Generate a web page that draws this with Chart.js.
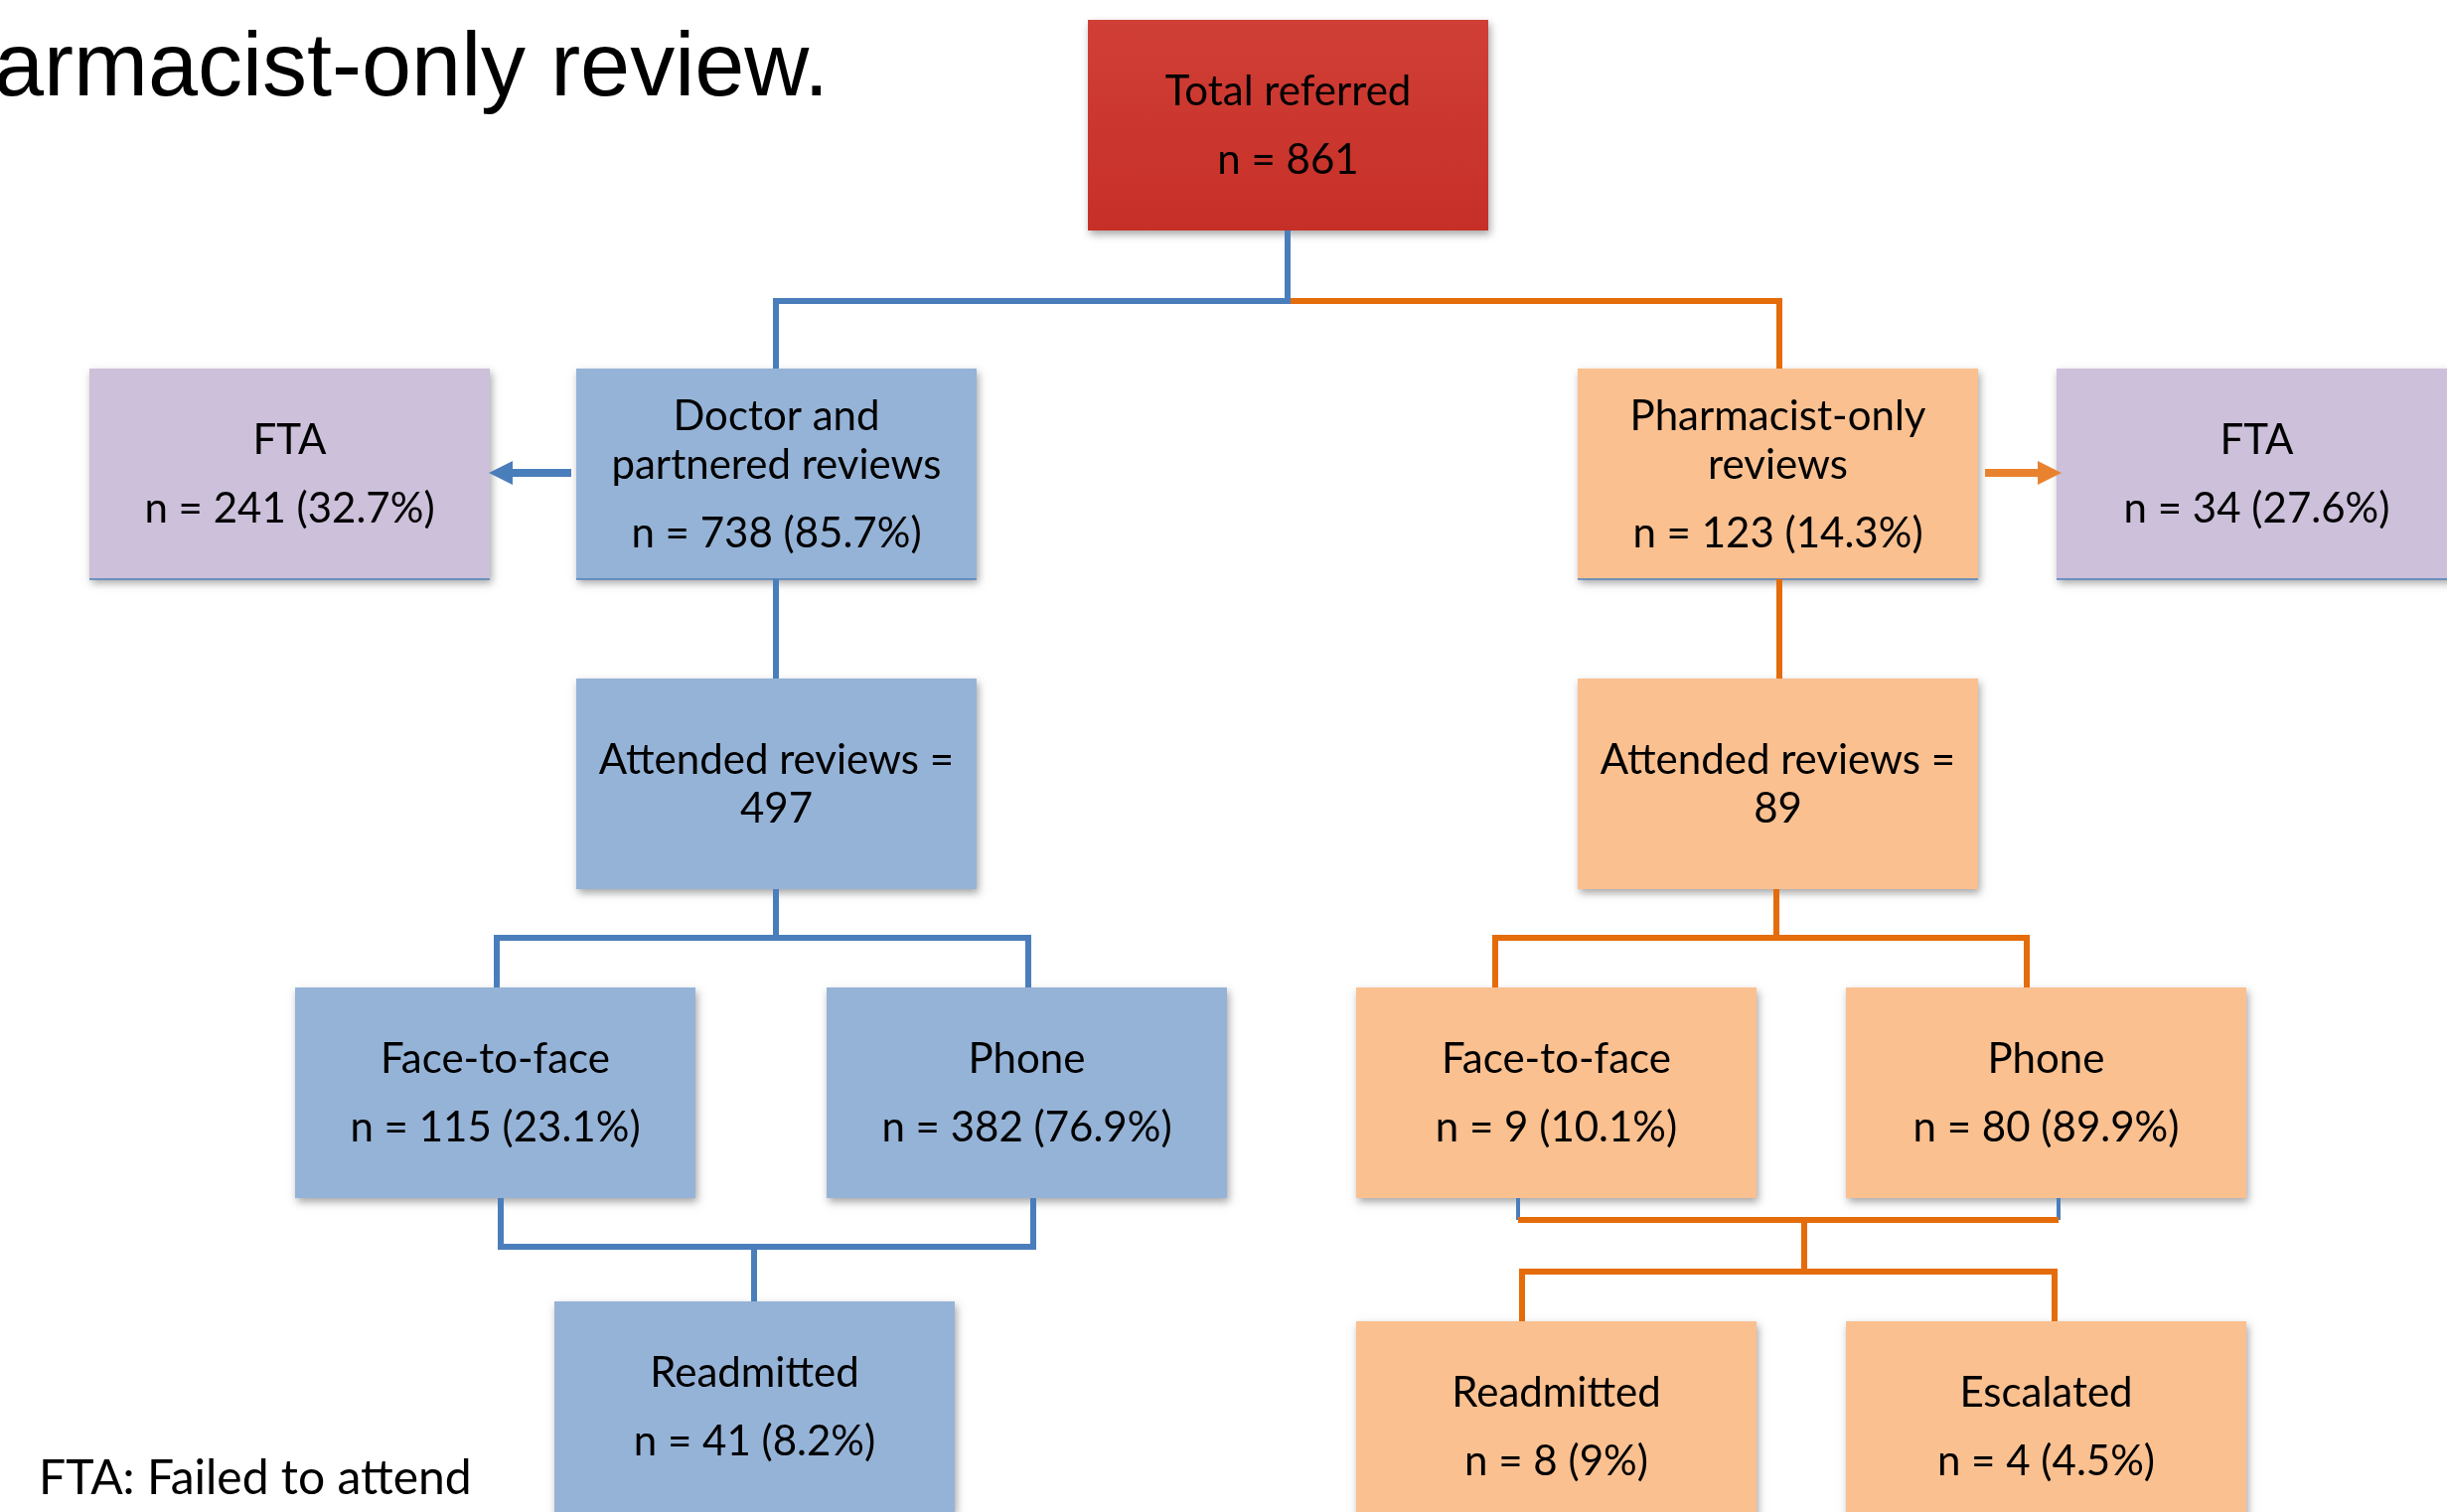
<!DOCTYPE html>
<html>
<head>
<meta charset="utf-8">
<script src="https://cdn.jsdelivr.net/npm/chart.js@4"></script>
<style>
  html, body { margin: 0; padding: 0; background: #fff; overflow: hidden; }
  canvas { display: block; }
</style>
</head>
<body>
<canvas id="flow" width="2463" height="1522"></canvas>
<script>
// node values
const nodeTitles = [
  'Total referred',
  'Doctor and\npartnered reviews', 'Pharmacist-only\nreviews',
  'FTA', 'FTA',
  'Attended reviews =', 'Attended reviews =',
  'Face-to-face', 'Phone', 'Face-to-face', 'Phone',
  'Readmitted', 'Readmitted', 'Escalated',
];
const nodeCounts = [861, 738, 123, 241, 34, 497, 89, 115, 382, 9, 80, 41, 8, 4];
const nodePcts   = [null, '85.7', '14.3', '32.7', '27.6', null, null, '23.1', '76.9', '10.1', '89.9', '8.2', '9', '4.5'];
const nodeGroup  = ['total', 'doc', 'pharm', 'fta', 'fta', 'doc', 'pharm', 'doc', 'doc', 'pharm', 'pharm', 'doc', 'pharm', 'pharm'];

const TITLE_TEXT = 'armacist-only review.';
const FOOTNOTE = 'FTA: Failed to attend';

// layout (plot units = reference pixels): [left, top]
const W = 403, H = 212;
const boxPos = [
  [1095, 20],
  [580, 371], [1588, 371],
  [90, 371], [2070, 371],
  [580, 683], [1588, 683],
  [297, 994], [832, 994], [1365, 994], [1858, 994],
  [558, 1310], [1365, 1330], [1858, 1330],
];

const FILL = { doc: '#95b3d7', pharm: '#fac090', fta: '#ccc0da' };
const BLUE = '#4a7ebb';
const ORANGE = '#e46c0a';
const FONT = 'Lato, "Open Sans", sans-serif';

// connector paths, null breaks a path
const bluePaths = [
  [1296, 232], [1296, 303], [781, 303], [781, 371], null,
  [781, 583], [781, 683], null,
  [781, 895], [781, 944], null,
  [500, 994], [500, 944], [1035, 944], [1035, 994], null,
  [504, 1206], [504, 1255], [1040, 1255], [1040, 1206], null,
  [759, 1255], [759, 1310],
];
const orangePaths = [
  [1296, 303], [1791, 303], [1791, 371], null,
  [1791, 583], [1791, 683], null,
  [1788, 895], [1788, 944], null,
  [1505, 994], [1505, 944], [2040, 944], [2040, 994], null,
  [1528, 1228], [2072, 1228], null,
  [1816, 1228], [1816, 1280], null,
  [1532, 1330], [1532, 1280], [2068, 1280], [2068, 1330],
];
const blueTicks = [[1528, 1206], [1528, 1228], null, [2072, 1206], [2072, 1228]];

const toPts = arr => arr.map(p => p ? { x: p[0], y: p[1] } : { x: null, y: null });

function nodeLines(i) {
  const t = nodeTitles[i].split('\n');
  if (t[0].endsWith('=')) return { title: t, count: String(nodeCounts[i]), gap: 49 };
  const c = nodePcts[i] == null ? `n = ${nodeCounts[i]}` : `n = ${nodeCounts[i]} (${nodePcts[i]}%)`;
  return { title: t, count: c, gap: 69 };
}

const boxesPlugin = {
  id: 'boxes',
  beforeDatasetsDraw(chart) {
    const { ctx, scales: { x, y } } = chart;
    ctx.save();
    boxPos.forEach((p, i) => {
      const l = x.getPixelForValue(p[0]), r = x.getPixelForValue(p[0] + W);
      const t = y.getPixelForValue(p[1]), b = y.getPixelForValue(p[1] + H);
      ctx.shadowColor = 'rgba(0,0,0,0.35)';
      ctx.shadowBlur = 8;
      ctx.shadowOffsetX = 2;
      ctx.shadowOffsetY = 4;
      if (nodeGroup[i] === 'total') {
        const g = ctx.createLinearGradient(0, t, 0, b);
        g.addColorStop(0, '#d03f36');
        g.addColorStop(1, '#c62f27');
        ctx.fillStyle = g;
      } else {
        ctx.fillStyle = FILL[nodeGroup[i]];
      }
      ctx.fillRect(l, t, r - l, b - t);
      ctx.shadowColor = 'transparent';
      if (nodeGroup[i] !== 'total' && p[1] < 600) {
        ctx.strokeStyle = '#4f81bd';
        ctx.lineWidth = 1.5;
        ctx.beginPath();
        ctx.moveTo(l, b); ctx.lineTo(r, b);
        ctx.stroke();
      }
    });
    ctx.restore();
  },
  afterDatasetsDraw(chart) {
    const { ctx, scales: { x, y } } = chart;
    ctx.save();
    // side arrows to FTA boxes
    const arrow = (x0, x1, yy, col) => {
      const a = x.getPixelForValue(x0), c = x.getPixelForValue(x1), m = y.getPixelForValue(yy);
      const dir = Math.sign(c - a), head = 24;
      ctx.fillStyle = col;
      ctx.fillRect(Math.min(a, c - dir * head), m - 4, Math.abs(c - dir * head - a), 8);
      ctx.beginPath();
      ctx.moveTo(c, m);
      ctx.lineTo(c - dir * head, m - 12);
      ctx.lineTo(c - dir * head, m + 12);
      ctx.closePath();
      ctx.fill();
    };
    arrow(575, 492, 476, BLUE);
    arrow(1998, 2075, 476, '#e9822e');

    // box texts
    ctx.fillStyle = '#000';
    ctx.font = `42px ${FONT}`;
    ctx.textAlign = 'center';
    ctx.textBaseline = 'middle';
    boxPos.forEach((p, i) => {
      const { title, count, gap } = nodeLines(i);
      const block = (title.length - 1) * 49 + gap;
      const cx = x.getPixelForValue(p[0] + W / 2);
      let yy = p[1] + H / 2 + 1 - block / 2;
      title.forEach(s => { ctx.fillText(s, cx, y.getPixelForValue(yy)); yy += 49; });
      ctx.fillText(count, cx, y.getPixelForValue(yy - 49 + gap));
    });

    // slide title remnant and footnote
    ctx.textAlign = 'left';
    ctx.textBaseline = 'alphabetic';
    ctx.font = '90px "Liberation Sans", Arial, sans-serif';
    ctx.fillText(TITLE_TEXT, x.getPixelForValue(-6), y.getPixelForValue(96));
    ctx.font = `48px ${FONT}`;
    ctx.textBaseline = 'middle';
    ctx.fillText(FOOTNOTE, x.getPixelForValue(39), y.getPixelForValue(1489));
    ctx.restore();
  },
};

const lineDs = (pts, col, w) => ({
  data: toPts(pts),
  showLine: true,
  spanGaps: false,
  borderColor: col,
  borderWidth: w,
  pointRadius: 0,
  borderCapStyle: 'butt',
  borderJoinStyle: 'miter',
});

new Chart(document.getElementById('flow'), {
  type: 'scatter',
  data: {
    datasets: [
      lineDs(bluePaths, BLUE, 6),
      lineDs(orangePaths, ORANGE, 6),
      lineDs(blueTicks, BLUE, 4),
    ],
  },
  options: {
    responsive: false,
    animation: false,
    layout: { padding: 0 },
    plugins: { legend: { display: false }, tooltip: { enabled: false } },
    scales: {
      x: { type: 'linear', min: 0, max: 2463, display: false },
      y: { type: 'linear', min: 0, max: 1522, reverse: true, display: false },
    },
  },
  plugins: [boxesPlugin],
});
</script>
</body>
</html>
